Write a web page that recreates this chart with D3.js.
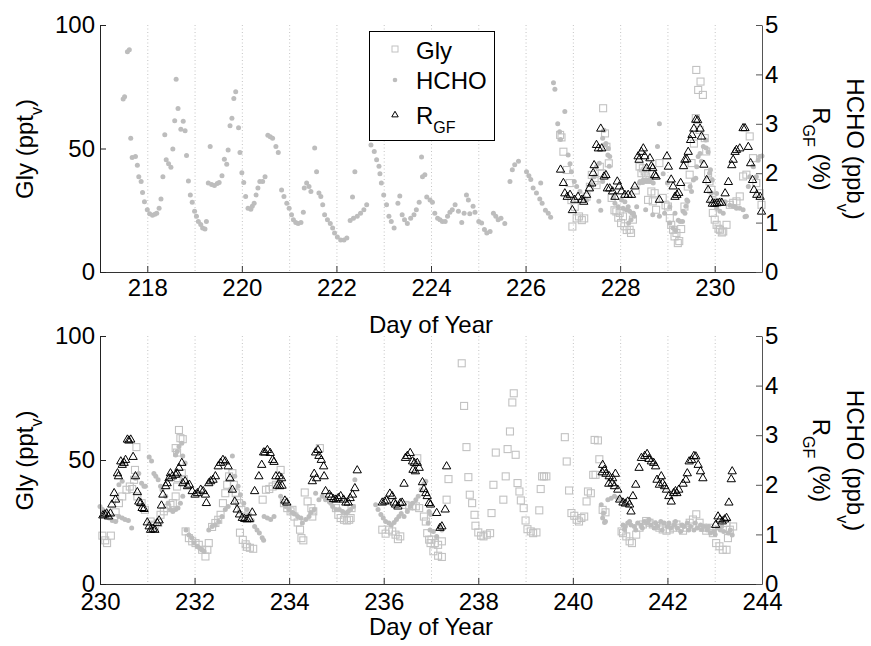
<!DOCTYPE html>
<html><head><meta charset="utf-8">
<script src="https://cdn.jsdelivr.net/npm/d3@7"></script>
<style>body{margin:0;background:#fff}</style>
</head><body><svg id="c" width="871" height="646"></svg>
<script>
// ---------------- DATA ----------------
// Panel 1 (days 217-231)
const glyTop = [[226.73,55.5],[226.76,54.5],[226.80,48.7],[226.87,41.3],[226.93,36.0],[226.97,29.1],[226.99,18.4],[227.04,26.4],[227.08,21.7],[227.13,22.5],[227.19,21.0],[227.24,21.7],[227.29,30.5],[227.36,34.5],[227.40,39.3],[227.46,37.0],[227.50,35.2],[227.57,42.6],[227.61,40.0],[227.64,66.3],[227.68,56.1],[227.71,50.7],[227.76,44.0],[227.82,30.0],[227.88,25.0],[227.92,24.5],[227.96,22.0],[227.99,23.9],[228.02,19.8],[228.06,22.5],[228.09,18.5],[228.14,17.0],[228.20,17.1],[228.23,15.8],[228.27,21.2],[228.33,33.0],[228.41,42.7],[228.45,40.0],[228.48,42.0],[228.52,40.7],[228.55,38.7],[228.59,29.2],[228.62,37.3],[228.66,32.6],[228.69,28.6],[228.73,31.9],[228.76,25.2],[228.83,44.1],[228.90,30.0],[228.96,27.0],[229.01,26.5],[229.05,21.8],[229.08,19.1],[229.12,17.1],[229.15,14.4],[229.19,15.8],[229.22,11.7],[229.25,12.5],[229.29,17.4],[229.36,26.5],[229.43,34.6],[229.47,39.4],[229.51,44.1],[229.56,52.0],[229.60,62.3],[229.61,81.8],[229.65,73.7],[229.68,57.5],[229.70,77.1],[229.75,71.7],[229.79,54.2],[229.82,48.8],[229.86,40.0],[229.89,36.7],[229.93,33.3],[229.95,29.2],[229.96,23.9],[230.00,21.2],[230.04,19.1],[230.08,17.5],[230.11,17.1],[230.15,16.0],[230.18,16.4],[230.25,19.1],[230.32,27.2],[230.39,28.0],[230.46,28.6],[230.53,30.6],[230.60,38.7],[230.67,39.4],[230.74,54.9],[230.81,46.1],[230.88,36.0],[230.95,31.9],[230.99,27.2]];

const hchoTop = [[217.49,3.50],[217.52,3.55],[217.58,4.46],[217.62,4.50],[217.65,2.71],[217.68,2.32],[217.75,2.34],[217.79,2.16],[217.82,1.93],[217.87,1.83],[217.90,1.61],[217.94,1.42],[218.00,1.26],[218.05,1.18],[218.11,1.15],[218.16,1.17],[218.20,1.19],[218.25,1.29],[218.29,1.48],[218.33,1.93],[218.37,2.78],[218.40,2.27],[218.45,2.19],[218.50,2.12],[218.54,2.49],[218.58,3.06],[218.61,3.90],[218.65,3.31],[218.71,2.89],[218.76,3.05],[218.80,2.86],[218.83,2.36],[218.87,1.84],[218.91,1.56],[218.95,1.41],[219.00,1.23],[219.04,1.13],[219.08,1.02],[219.13,0.96],[219.17,0.89],[219.22,0.87],[219.25,1.02],[219.29,1.80],[219.33,2.54],[219.36,1.77],[219.42,1.75],[219.48,1.79],[219.52,1.81],[219.58,1.95],[219.63,2.28],[219.68,2.18],[219.71,2.47],[219.75,2.96],[219.79,3.11],[219.83,3.51],[219.87,3.65],[219.93,2.92],[219.96,2.42],[220.00,2.01],[220.04,1.81],[220.08,1.53],[220.13,1.29],[220.19,1.27],[220.22,1.33],[220.26,1.39],[220.30,1.56],[220.34,1.70],[220.38,1.83],[220.44,1.83],[220.49,1.93],[220.55,2.77],[220.60,2.74],[220.65,2.71],[220.72,2.54],[220.77,2.42],[220.84,1.66],[220.89,1.53],[220.95,1.39],[221.00,1.29],[221.05,1.16],[221.09,1.06],[221.14,1.00],[221.19,0.98],[221.25,1.00],[221.30,1.21],[221.32,1.70],[221.37,1.80],[221.42,1.73],[221.46,1.63],[221.54,2.51],[221.58,2.03],[221.63,1.60],[221.67,1.53],[221.71,1.36],[221.75,1.16],[221.81,1.06],[221.87,0.98],[221.92,0.89],[221.96,0.79],[222.02,0.71],[222.09,0.65],[222.16,0.65],[222.22,0.69],[222.29,1.04],[222.34,1.52],[222.36,1.09],[222.39,2.03],[222.44,1.13],[222.51,1.19],[222.58,1.26],[222.64,1.36],[222.73,2.57],[222.80,2.44],[222.85,2.27],[222.90,2.14],[222.92,1.99],[222.95,1.80],[223.00,1.56],[223.06,1.36],[223.11,1.13],[223.16,1.02],[223.22,0.89],[223.30,1.39],[223.34,1.54],[223.39,1.16],[223.44,1.06],[223.50,0.98],[223.57,1.09],[223.64,1.16],[223.69,1.26],[223.75,1.41],[223.80,2.33],[223.82,1.93],[223.87,1.97],[223.91,1.52],[223.98,1.46],[224.03,1.41],[224.08,1.19],[224.14,1.09],[224.19,1.06],[224.24,1.02],[224.30,1.02],[224.35,1.13],[224.40,1.21],[224.45,1.26],[224.51,1.36],[224.58,1.23],[224.65,1.00],[224.70,1.19],[224.75,1.56],[224.79,1.46],[224.82,1.18],[224.89,1.33],[224.93,1.21],[225.01,1.02],[225.07,0.99],[225.13,0.86],[225.18,0.79],[225.25,0.82],[225.32,1.19],[225.37,1.13],[225.42,1.06],[225.48,1.09],[225.56,0.98],[225.67,1.83],[225.72,2.07],[225.77,2.17],[225.85,2.24],[226.02,2.03],[226.07,1.95],[226.11,1.87],[226.16,1.70],[226.23,1.60],[226.30,1.48],[226.32,1.80],[226.35,1.39],[226.42,1.25],[226.48,1.19],[226.53,1.11],[226.59,3.83],[226.62,3.70],[226.68,3.00],[226.72,2.84],[226.74,2.68],[226.83,3.25],[226.90,2.37],[226.94,2.19],[226.97,2.03],[227.03,1.83],[227.08,1.73],[227.15,1.63],[227.22,1.52],[227.29,1.46],[227.38,1.76],[227.45,1.93],[227.50,2.13],[227.56,2.20],[227.59,1.25],[227.55,1.43],[227.63,1.83],[227.63,2.71],[227.66,2.87],[227.69,2.57],[227.70,2.60],[227.74,2.37],[227.75,2.50],[227.77,2.14],[227.78,2.34],[227.86,1.52],[227.89,1.39],[227.96,1.32],[228.03,1.46],[228.06,1.29],[228.10,1.42],[228.13,1.26],[228.17,1.32],[228.18,0.99],[228.20,1.23],[228.23,1.06],[228.25,1.19],[228.28,1.19],[228.30,1.13],[228.35,1.32],[228.41,1.80],[228.42,1.83],[228.48,1.81],[228.49,1.86],[228.54,1.26],[228.55,1.83],[228.56,1.86],[228.62,1.87],[228.63,1.83],[228.69,1.16],[228.70,1.80],[228.79,2.54],[228.83,3.00],[228.83,1.13],[228.91,1.99],[228.94,1.19],[229.00,1.80],[229.05,0.99],[229.05,1.32],[229.12,0.89],[229.16,1.19],[229.17,0.84],[229.23,1.05],[229.27,1.02],[229.32,1.02],[229.33,1.23],[229.37,1.19],[229.39,1.33],[229.41,1.46],[229.43,1.43],[229.48,1.73],[229.51,1.63],[229.55,1.86],[229.60,1.90],[229.62,2.13],[229.65,2.34],[229.69,2.40],[229.72,2.24],[229.76,2.54],[229.81,2.67],[229.82,2.51],[229.86,2.43],[229.89,2.00],[229.91,2.07],[229.93,1.60],[229.95,1.86],[229.98,1.46],[230.04,1.59],[230.04,1.29],[230.11,1.23],[230.12,1.46],[230.18,1.19],[230.22,1.42],[230.32,1.35],[230.39,1.33],[230.43,1.32],[230.46,1.29],[230.53,1.29],[230.60,1.26],[230.64,1.12],[230.67,1.13],[230.71,1.73],[230.74,1.93],[230.81,2.14],[230.82,2.13],[230.88,1.93],[230.92,2.26],[230.95,2.34],[231.00,2.35]];

const rgfTop = [[226.74,2.07],[226.80,1.80],[226.83,1.59],[226.88,1.52],[226.94,1.56],[226.99,1.25],[227.04,1.46],[227.11,1.52],[227.19,1.46],[227.23,1.42],[227.29,1.56],[227.35,1.69],[227.40,1.79],[227.43,2.00],[227.45,2.16],[227.50,2.57],[227.54,2.50],[227.59,2.90],[227.61,2.50],[227.66,1.93],[227.70,1.96],[227.73,1.69],[227.78,1.69],[227.84,1.63],[227.89,1.52],[227.94,1.83],[227.98,1.73],[228.03,1.63],[228.10,1.56],[228.17,1.56],[228.24,1.56],[228.31,1.73],[228.38,2.34],[228.40,2.27],[228.45,2.43],[228.49,2.50],[228.52,2.34],[228.56,2.10],[228.63,2.30],[228.66,2.14],[228.69,2.10],[228.73,1.96],[228.76,1.93],[228.83,1.46],[228.99,2.34],[229.02,2.13],[229.08,1.87],[229.12,1.73],[229.16,1.52],[229.20,1.56],[229.24,1.60],[229.28,1.80],[229.34,2.14],[229.37,2.27],[229.41,2.28],[229.44,2.43],[229.49,2.67],[229.52,2.77],[229.56,2.90],[229.60,3.08],[229.64,3.07],[229.69,2.90],[229.72,2.74],[229.77,2.17],[229.83,1.86],[229.86,1.66],[229.91,1.46],[229.95,1.38],[230.00,1.38],[230.05,1.39],[230.10,1.40],[230.15,1.40],[230.22,1.59],[230.29,1.82],[230.36,2.16],[230.39,2.27],[230.43,2.43],[230.46,2.47],[230.53,2.50],[230.60,2.91],[230.64,2.91],[230.71,2.53],[230.76,2.20],[230.80,1.86],[230.83,1.66],[230.89,1.56],[230.96,1.52],[230.99,1.22]];

// Panel 2 (days 230-244)
const glyBot = [[230.05,19.5],[230.11,17.6],[230.15,16.5],[230.23,19.5],[230.30,26.6],[230.33,28.9],[230.40,32.6],[230.47,35.3],[230.56,38.0],[230.63,39.3],[230.68,38.3],[230.72,42.0],[230.74,46.0],[230.77,55.2],[230.79,35.3],[230.88,32.6],[230.95,29.9],[231.07,25.2],[231.12,23.9],[231.16,23.5],[231.23,24.6],[231.28,27.9],[231.35,29.3],[231.42,30.6],[231.49,31.9],[231.54,32.6],[231.60,35.3],[231.60,54.8],[231.63,39.3],[231.63,53.0],[231.65,42.7],[231.67,62.1],[231.70,58.8],[231.73,44.7],[231.75,58.4],[231.77,42.3],[231.81,21.2],[231.88,18.5],[231.95,17.2],[232.02,16.5],[232.09,15.8],[232.16,13.8],[232.23,11.1],[232.27,13.8],[232.30,16.5],[232.37,23.0],[232.44,24.6],[232.50,25.9],[232.55,27.9],[232.60,32.6],[232.65,36.6],[232.69,40.0],[232.73,43.4],[232.80,44.7],[232.83,40.0],[232.87,36.6],[232.90,34.0],[232.94,32.6],[232.96,20.7],[232.99,29.9],[233.02,17.8],[233.04,27.2],[233.08,16.0],[233.11,15.0],[233.17,14.6],[233.24,14.2],[233.44,34.0],[233.51,38.0],[233.58,38.3],[233.65,39.3],[233.72,40.0],[233.82,46.0],[233.89,32.6],[233.96,30.6],[234.03,29.3],[234.07,29.9],[234.11,27.2],[234.18,24.8],[234.23,21.9],[234.26,18.5],[234.30,17.6],[234.33,36.9],[234.39,33.3],[234.47,30.6],[234.49,27.2],[234.51,29.3],[234.65,54.8],[234.99,30.6],[235.04,27.9],[235.09,26.6],[235.16,25.9],[235.22,25.6],[235.27,25.9],[235.30,26.6],[235.32,30.6],[235.97,21.9],[236.04,20.3],[236.11,21.9],[236.18,21.2],[236.25,19.9],[236.30,18.1],[236.35,19.2],[236.46,31.9],[236.54,31.3],[236.61,31.5],[236.68,31.3],[236.71,50.7],[236.75,30.6],[236.85,27.2],[236.89,25.2],[236.92,20.5],[236.96,17.9],[236.99,16.5],[237.01,17.9],[237.05,13.2],[237.08,16.5],[237.15,15.8],[237.15,11.4],[237.23,17.2],[237.23,10.9],[237.33,34.0],[237.37,42.3],[237.65,89.0],[237.70,71.8],[237.75,55.2],[237.79,43.1],[237.82,36.0],[237.87,32.6],[237.92,27.9],[237.94,23.5],[238.00,20.8],[238.06,19.5],[238.11,19.2],[238.18,19.9],[238.25,20.5],[238.28,28.6],[238.32,40.0],[238.37,53.0],[238.53,34.0],[238.58,43.4],[238.62,54.4],[238.67,61.5],[238.72,73.2],[238.75,76.9],[238.79,52.1],[238.83,40.7],[238.87,37.3],[238.90,33.7],[238.96,30.6],[239.00,25.6],[239.04,22.1],[239.11,21.2],[239.16,20.5],[239.23,20.8],[239.29,29.7],[239.32,38.3],[239.35,43.4],[239.39,43.4],[239.44,43.4],[239.83,59.2],[239.87,49.4],[239.92,37.7],[239.97,28.6],[240.03,27.5],[240.08,25.9],[240.13,25.2],[240.18,26.6],[240.24,27.2],[240.29,33.3],[240.32,37.3],[240.38,36.6],[240.43,44.0],[240.46,58.1],[240.48,44.0],[240.53,57.9],[240.56,50.3],[240.63,29.9],[240.69,28.9],[241.03,21.2],[241.06,20.5],[241.13,19.2],[241.20,17.2],[241.25,16.5],[241.34,19.9],[241.41,22.7],[241.48,24.0],[241.55,25.4],[241.62,24.7],[241.69,24.0],[241.76,23.4],[241.83,22.7],[241.90,22.0],[241.98,21.5],[242.05,22.0],[242.12,22.7],[242.19,24.0],[242.26,22.7],[242.33,21.5],[242.40,22.7],[242.47,24.7],[242.54,26.0],[242.61,28.1],[242.68,24.7],[242.75,22.7],[242.82,21.5],[242.89,22.7],[242.96,20.5],[243.03,16.5],[243.10,15.2],[243.17,13.8],[243.25,13.8],[243.25,24.6],[243.28,18.5],[243.32,21.9],[243.39,23.2]];

const hchoBot = [[230.00,1.56],[230.05,1.50],[230.12,1.44],[230.19,1.33],[230.26,1.28],[230.33,1.26],[230.40,1.36],[230.40,2.00],[230.47,1.33],[230.47,2.07],[230.53,1.30],[230.60,1.28],[230.67,1.13],[230.75,2.13],[230.82,2.23],[230.88,2.03],[230.93,1.97],[230.96,1.97],[231.04,2.56],[231.09,2.48],[231.14,2.23],[231.18,2.17],[231.23,2.10],[231.28,1.97],[231.31,1.90],[231.39,1.77],[231.44,1.63],[231.49,1.50],[231.54,1.46],[231.60,1.50],[231.60,2.60],[231.63,2.67],[231.65,1.53],[231.67,2.77],[231.70,1.63],[231.73,2.84],[231.75,1.77],[231.75,2.58],[231.80,2.44],[231.82,1.09],[231.88,0.99],[231.94,0.93],[231.99,0.83],[232.06,0.76],[232.11,0.72],[232.15,0.69],[232.20,0.66],[232.30,1.09],[232.37,1.16],[232.44,1.19],[232.51,1.26],[232.58,1.36],[232.65,1.50],[232.71,1.56],[232.75,1.90],[232.80,2.58],[232.85,2.17],[232.92,1.97],[232.97,1.80],[233.04,1.63],[233.11,1.50],[233.16,1.40],[233.22,1.28],[233.27,1.16],[233.32,1.09],[233.37,1.03],[233.43,0.93],[233.46,0.88],[233.47,1.36],[233.54,1.33],[233.61,1.30],[233.68,1.36],[233.75,1.97],[233.79,2.07],[233.82,1.77],[233.89,1.63],[233.93,1.56],[234.00,1.50],[234.07,1.44],[234.11,1.41],[234.18,1.36],[234.25,1.33],[234.28,1.23],[234.35,1.30],[234.42,1.36],[234.46,1.44],[234.53,1.50],[234.56,1.83],[234.63,1.70],[234.70,1.77],[234.77,1.70],[234.85,1.66],[234.88,1.63],[234.92,1.56],[234.99,1.50],[235.06,1.50],[235.13,1.46],[235.20,1.43],[235.25,1.46],[235.30,1.50],[235.36,1.56],[235.39,2.10],[235.83,1.60],[235.88,1.50],[235.94,1.40],[235.99,1.33],[236.04,1.26],[236.11,1.23],[236.16,1.19],[236.22,1.24],[236.27,1.30],[236.32,1.36],[236.37,1.42],[236.43,1.36],[236.50,1.46],[236.56,1.56],[236.61,1.63],[236.68,1.70],[236.73,1.77],[236.79,1.90],[236.85,2.02],[236.89,2.07],[236.94,1.23],[236.96,1.46],[236.98,1.09],[236.99,1.40],[237.05,1.06],[237.12,0.96],[237.19,1.16],[237.23,1.09],[240.60,1.60],[240.63,1.33],[240.65,1.43],[240.67,1.24],[240.69,1.26],[240.74,1.70],[240.81,1.73],[240.88,1.77],[240.95,1.73],[241.02,1.70],[241.06,1.19],[241.09,1.10],[241.11,1.16],[241.16,1.23],[241.20,1.26],[241.23,1.19],[241.30,1.16],[241.33,1.09],[241.37,1.23],[241.44,1.19],[241.47,1.13],[241.51,1.26],[241.58,1.23],[241.61,1.30],[241.65,1.19],[241.72,1.13],[241.75,1.23],[241.79,1.16],[241.86,1.26],[241.89,1.09],[241.93,1.23],[242.00,1.16],[242.03,1.23],[242.07,1.13],[242.14,1.19],[242.17,1.26],[242.21,1.13],[242.28,1.06],[242.31,1.19],[242.35,1.16],[242.42,1.23],[242.45,1.09],[242.49,1.16],[242.56,1.09],[242.59,1.23],[242.63,1.13],[242.70,1.19],[242.73,1.10],[242.77,1.16],[242.84,1.09],[242.87,1.16],[242.91,1.03],[242.98,1.06],[243.01,1.00],[243.05,1.13],[243.12,1.09],[243.15,1.16],[243.19,1.06],[243.29,1.03],[243.33,1.09],[243.37,0.99]];

const rgfBot = [[230.06,1.38],[230.10,1.40],[230.14,1.42],[230.18,1.36],[230.22,1.42],[230.25,1.60],[230.30,1.83],[230.33,1.70],[230.37,2.23],[230.39,2.17],[230.44,2.47],[230.47,2.40],[230.51,2.44],[230.54,2.50],[230.58,2.91],[230.61,2.89],[230.65,2.91],[230.70,2.56],[230.75,2.17],[230.79,1.85],[230.82,1.66],[230.86,1.63],[230.89,1.53],[230.93,1.51],[231.00,1.24],[231.04,1.16],[231.07,1.09],[231.12,1.11],[231.16,1.09],[231.21,1.23],[231.25,1.28],[231.30,1.58],[231.33,1.80],[231.39,1.97],[231.42,2.03],[231.46,2.13],[231.49,2.23],[231.53,2.17],[231.60,2.20],[231.63,2.23],[231.67,2.34],[231.73,2.44],[231.75,2.03],[231.80,2.07],[231.85,1.97],[231.89,2.00],[231.95,1.87],[232.01,1.80],[232.06,1.83],[232.13,1.90],[232.18,1.87],[232.23,1.80],[232.25,1.63],[232.30,2.03],[232.34,2.07],[232.39,2.10],[232.44,2.17],[232.50,2.37],[232.55,2.44],[232.60,2.50],[232.65,2.47],[232.71,2.37],[232.75,2.13],[232.80,1.90],[232.85,1.66],[232.90,1.50],[232.95,1.40],[233.01,1.33],[233.06,1.31],[233.11,1.30],[233.16,1.31],[233.22,1.44],[233.27,1.87],[233.36,2.17],[233.42,2.40],[233.46,2.65],[233.49,2.65],[233.54,2.70],[233.60,2.64],[233.65,2.50],[233.68,2.46],[233.72,2.17],[233.75,1.98],[233.79,2.17],[233.80,1.97],[233.84,2.13],[233.85,1.98],[233.91,1.68],[233.95,1.64],[234.49,2.07],[234.53,2.22],[234.56,2.65],[234.58,2.13],[234.61,2.70],[234.63,2.58],[234.68,2.50],[234.73,2.37],[234.74,2.17],[234.77,1.87],[234.85,1.80],[234.89,1.75],[234.94,1.71],[234.99,1.70],[235.04,1.73],[235.09,1.77],[235.15,1.70],[235.20,1.64],[235.25,1.64],[235.29,1.73],[235.34,1.80],[235.39,1.93],[235.44,2.29],[235.97,1.64],[236.02,1.66],[236.06,1.68],[236.13,1.82],[236.18,1.77],[236.22,1.64],[236.25,1.60],[236.30,1.56],[236.35,1.63],[236.39,1.64],[236.43,2.02],[236.46,2.54],[236.50,2.58],[236.56,2.64],[236.61,2.47],[236.62,2.30],[236.65,2.44],[236.67,2.27],[236.71,2.44],[236.75,2.34],[236.82,2.05],[236.85,1.91],[236.89,1.83],[236.92,1.77],[236.96,1.63],[236.99,1.60],[237.12,1.43],[237.19,1.13],[237.23,1.16],[237.30,1.50],[237.33,2.37],[240.62,2.25],[240.63,2.40],[240.67,2.30],[240.70,2.22],[240.76,2.02],[240.77,2.17],[240.83,2.03],[240.84,2.13],[240.88,1.97],[240.90,2.22],[240.95,1.90],[240.99,1.70],[241.06,1.64],[241.11,1.62],[241.16,1.66],[241.20,1.60],[241.23,1.46],[241.27,1.77],[241.33,2.00],[241.40,2.34],[241.45,2.54],[241.52,2.58],[241.57,2.62],[241.61,2.52],[241.66,2.47],[241.71,2.44],[241.75,2.37],[241.78,2.10],[241.83,2.00],[241.87,2.17],[241.90,2.03],[241.94,1.97],[241.98,1.90],[242.03,1.77],[242.08,1.66],[242.13,1.83],[242.17,1.87],[242.20,1.83],[242.24,1.90],[242.33,2.02],[242.39,2.10],[242.42,2.23],[242.46,2.47],[242.51,2.50],[242.56,2.58],[242.60,2.57],[242.65,2.40],[242.70,2.27],[242.75,2.13],[243.02,1.19],[243.07,1.36],[243.11,1.30],[243.16,1.26],[243.21,1.30],[243.25,1.33],[243.30,1.64],[243.35,2.11],[243.37,2.27]];

const leftTicks = [0, 50, 100];
const rightTicks = [0, 1, 2, 3, 4, 5];
const legendItems = ["Gly", "HCHO", "R"];

// ---------------- DRAW ----------------
const FONT = '"Liberation Sans", Arial, Helvetica, sans-serif';
const FS = 24;
const svg = d3.select("#c");
svg.append("rect").attr("width", 871).attr("height", 646).attr("fill", "#fff");

const panels = [
  {dom: [217, 231], top: 25, bot: 272, gly: glyTop, hcho: hchoTop, rgf: rgfTop, xl: 333, pad: 7, legend: true},
  {dom: [230, 244], top: 336, bot: 584, gly: glyBot, hcho: hchoBot, rgf: rgfBot, xl: 635, pad: 9, legend: false}
];

function styleAxis(g, color) {
  g.attr("font-family", FONT).attr("font-size", FS);
  g.selectAll("text").attr("fill", "#000");
  g.selectAll("path.domain").attr("stroke", color).attr("stroke-width", 1);
  g.selectAll(".tick line").attr("stroke", color).attr("stroke-width", 1);
}

panels.forEach(p => {
  const x = d3.scaleLinear().domain(p.dom).range([100, 762]);
  const yL = d3.scaleLinear().domain([0, 100]).range([p.bot, p.top]);
  const yR = d3.scaleLinear().domain([0, 5]).range([p.bot, p.top]);
  const g = svg.append("g");

  // dotted day grid
  g.append("g").selectAll("line").data(d3.range(p.dom[0] + 1, p.dom[1])).join("line")
    .attr("x1", d => x(d) + 0.5).attr("x2", d => x(d) + 0.5)
    .attr("y1", p.top).attr("y2", p.bot)
    .attr("stroke", "#c4c4c4").attr("stroke-width", 1).attr("stroke-dasharray", "1,2.5");

  // Gly squares (left axis)
  g.append("g").selectAll("rect").data(p.gly).join("rect")
    .attr("x", d => x(d[0]) - 3.5).attr("y", d => yL(d[1]) - 3.5)
    .attr("width", 7).attr("height", 7)
    .attr("fill", "none").attr("stroke", "#c2c2c2").attr("stroke-width", 1.1);

  // HCHO dots (right axis)
  g.append("g").selectAll("circle").data(p.hcho).join("circle")
    .attr("cx", d => x(d[0])).attr("cy", d => yR(d[1])).attr("r", 2.5)
    .attr("fill", "#bdbdbd");

  // R_GF triangles (right axis)
  const tri = d3.symbol(d3.symbolTriangle, 30);
  g.append("g").selectAll("path").data(p.rgf).join("path")
    .attr("d", tri)
    .attr("transform", d => `translate(${x(d[0])},${yR(d[1])})`)
    .attr("fill", "none").attr("stroke", "#000").attr("stroke-width", 1);

  // axes
  const start = p.dom[0] % 2 === 0 ? p.dom[0] : p.dom[0] + 1;
  const gx = g.append("g").attr("transform", `translate(0,${p.bot})`)
    .call(d3.axisBottom(x).tickValues(d3.range(start, p.dom[1] + 1, 2))
      .tickSize(-6).tickSizeOuter(0).tickPadding(p.pad).tickFormat(d3.format("d")));
  styleAxis(gx, "#333");

  const gl = g.append("g").attr("transform", "translate(100,0)")
    .call(d3.axisLeft(yL).tickValues(leftTicks).tickSize(-6).tickSizeOuter(0).tickPadding(5)
      .tickFormat(d3.format("d")));
  styleAxis(gl, "#222");

  const gr = g.append("g").attr("transform", "translate(762,0)")
    .call(d3.axisRight(yR).tickValues(rightTicks).tickSize(-6).tickSizeOuter(0).tickPadding(3)
      .tickFormat(d3.format("d")));
  styleAxis(gr, "#555");

  const cy = (p.top + p.bot) / 2 + 0.5;

  // x label
  g.append("text").attr("x", 431).attr("y", p.xl).attr("text-anchor", "middle")
    .attr("font-family", FONT).attr("font-size", FS).text("Day of Year");

  // left y label
  const tl = g.append("text").attr("transform", `translate(33,${cy}) rotate(-90)`)
    .attr("text-anchor", "middle").attr("font-family", FONT).attr("font-size", FS);
  tl.append("tspan").text("Gly (ppt");
  tl.append("tspan").attr("font-size", 16).attr("dy", 9).text("v");
  tl.append("tspan").attr("dy", -9).text(")");

  // right y labels
  const t1 = g.append("text").attr("transform", `translate(813,${cy}) rotate(90)`)
    .attr("text-anchor", "middle").attr("font-family", FONT).attr("font-size", FS);
  t1.append("tspan").text("R");
  t1.append("tspan").attr("font-size", 16).attr("dy", 10).text("GF");
  t1.append("tspan").attr("dy", -10).text(" (%)");

  const t2 = g.append("text").attr("transform", `translate(847,${cy}) rotate(90)`)
    .attr("text-anchor", "middle").attr("font-family", FONT).attr("font-size", FS);
  t2.append("tspan").text("HCHO (ppb");
  t2.append("tspan").attr("font-size", 16).attr("dy", 10).text("v");
  t2.append("tspan").attr("dy", -10).text(")");

  // legend
  if (p.legend) {
    const lg = g.append("g");
    lg.append("rect").attr("x", 369.5).attr("y", 31.5).attr("width", 125).attr("height", 109)
      .attr("fill", "#fff").attr("stroke", "#000").attr("stroke-width", 1);
    const rows = [49, 80, 115];
    lg.append("rect").attr("x", 392).attr("y", rows[0] - 3).attr("width", 6).attr("height", 6)
      .attr("fill", "none").attr("stroke", "#c2c2c2");
    lg.append("circle").attr("cx", 395).attr("cy", rows[1]).attr("r", 2.3).attr("fill", "#bdbdbd");
    lg.append("path").attr("d", d3.symbol(d3.symbolTriangle, 18))
      .attr("transform", `translate(395,${rows[2]})`).attr("fill", "none").attr("stroke", "#000");
    const base = [59, 89, 124];
    legendItems.forEach((t, i) => {
      const tx = lg.append("text").attr("x", 416).attr("y", base[i])
        .attr("font-family", FONT).attr("font-size", FS).text(t);
      if (i === 2) tx.append("tspan").attr("font-size", 16).attr("dy", 9).text("GF");
    });
  }
});
</script>
</body></html>
